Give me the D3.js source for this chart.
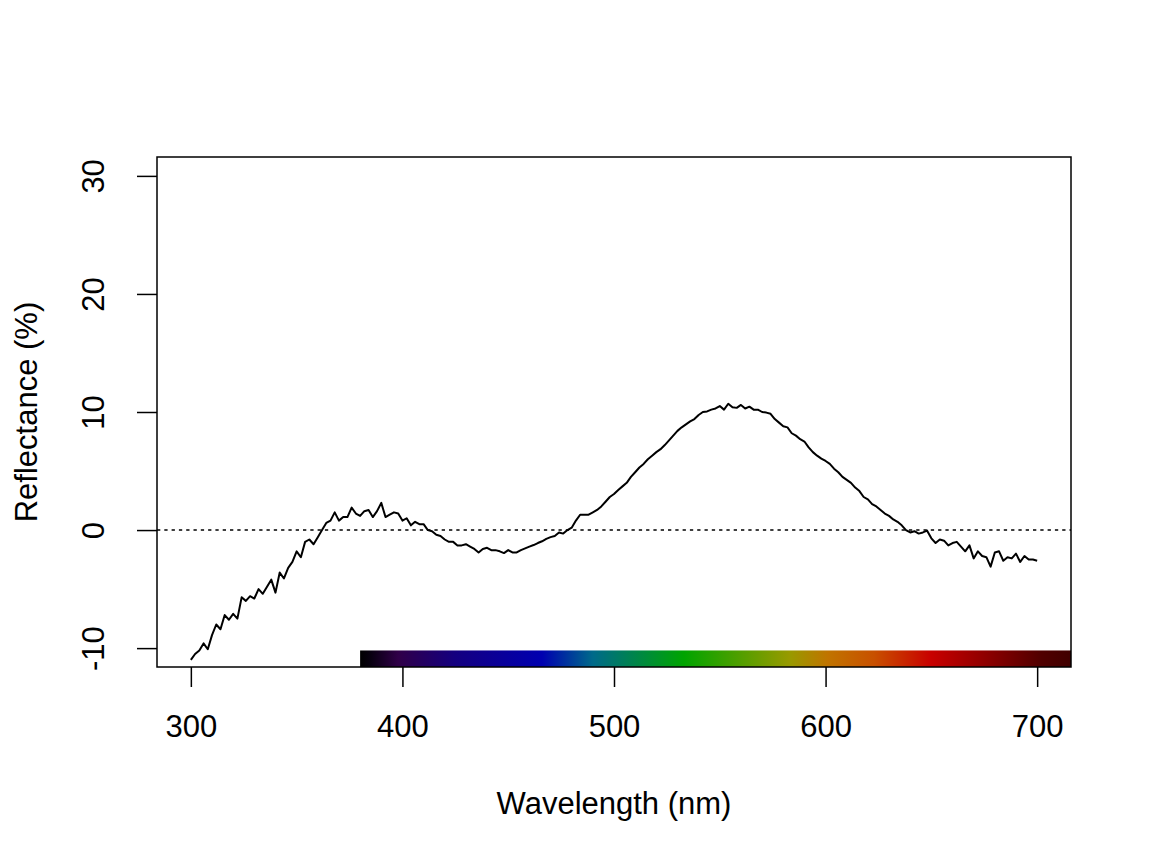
<!DOCTYPE html>
<html>
<head>
<meta charset="utf-8">
<script src="https://cdn.jsdelivr.net/npm/d3@7"></script>
<style>
  body { margin: 0; background: #fff; }
  text { font-family: "Liberation Sans", Arial, Helvetica, sans-serif; }
</style>
</head>
<body>
<div class="container"></div>
<script>
// reflectance, one reading every 2 nm from 300 to 700
const reflectance = [
  -11.0, -10.5, -10.2, -9.6, -10.1, -8.9, -8.0, -8.4, -7.2, -7.6,
  -7.1, -7.5, -5.7, -6.0, -5.6, -5.8, -5.0, -5.4, -4.8, -4.2,
  -5.3, -3.6, -4.1, -3.2, -2.7, -1.8, -2.3, -1.0, -0.8, -1.2,
  -0.6, 0.0, 0.6, 0.8, 1.5, 0.8, 1.1, 1.1, 1.9, 1.4,
  1.2, 1.6, 1.7, 1.1, 1.6, 2.3, 1.1, 1.3, 1.5, 1.4,
  0.8, 1.0, 0.4, 0.7, 0.5, 0.5, 0.0, -0.1, -0.4, -0.5,
  -0.8, -1.0, -1.0, -1.3, -1.3, -1.2, -1.4, -1.6, -1.9, -1.6,
  -1.5, -1.7, -1.7, -1.8, -1.95, -1.7, -1.9, -1.9, -1.7, -1.55,
  -1.4, -1.27, -1.1, -0.95, -0.75, -0.6, -0.5, -0.2, -0.3, 0.0,
  0.2, 0.8, 1.3, 1.3, 1.3, 1.5, 1.7, 2.0, 2.4, 2.8,
  3.05, 3.4, 3.7, 4.0, 4.5, 4.9, 5.3, 5.6, 6.0, 6.3,
  6.6, 6.85, 7.2, 7.6, 8.0, 8.4, 8.7, 8.95, 9.2, 9.4,
  9.75, 10.0, 10.05, 10.2, 10.3, 10.5, 10.2, 10.7, 10.4, 10.35,
  10.6, 10.3, 10.45, 10.2, 10.2, 10.0, 9.95, 9.85, 9.4, 9.1,
  8.8, 8.7, 8.2, 8.0, 7.7, 7.5, 7.0, 6.6, 6.3, 6.05,
  5.85, 5.6, 5.2, 4.9, 4.5, 4.25, 4.0, 3.6, 3.3, 2.8,
  2.6, 2.2, 2.0, 1.7, 1.4, 1.2, 0.9, 0.7, 0.4, 0.0,
  -0.2, -0.1, -0.3, -0.2, -0.05, -0.7, -1.1, -0.8, -0.9, -1.3,
  -1.1, -1.0, -1.4, -1.8, -1.3, -2.4, -1.8, -2.2, -2.3, -3.1,
  -1.9, -1.8, -2.6, -2.3, -2.4, -2.0, -2.7, -2.2, -2.5, -2.5,
  -2.6
]
const wavelength = reflectance.map((v, i) => 300 + 2 * i)

const xTicks = [300, 400, 500, 600, 700]
const yTicks = [-10, 0, 10, 20, 30]

// colours of the visible-spectrum bar
const specNm = [380, 385, 398, 425, 466, 490, 533, 583, 601, 623, 650, 675, 702, 716]
const specCol = ['#000000', '#080010', '#300048', '#140080', '#0000b0', '#006a8a', '#00a400',
  '#989a00', '#c07400', '#c85000', '#c80000', '#900000', '#500000', '#400000']

const w = 1152
const h = 864
const mLeft = 157, mRight = 1071, mTop = 157, mBottom = 667
const fs = 31

const svg = d3.select(".container")
  .append("svg")
  .attr("width", w)
  .attr("height", h)

const x = d3.scaleLinear().domain([284, 716]).range([mLeft, mRight])
const y = d3.scaleLinear().domain([-11.6, 31.6]).range([mBottom, mTop])

// spectrum bar along the bottom, as a gradient
const barStart = specNm[0], barEnd = specNm[specNm.length - 1]
const grad = svg.append("defs")
  .append("linearGradient")
  .attr("id", "spec")
  .attr("x1", "0%").attr("x2", "100%")
  .attr("y1", "0%").attr("y2", "0%")
grad.selectAll("stop")
  .data(specNm)
  .enter()
  .append("stop")
  .attr("offset", d => ((d - barStart) / (barEnd - barStart) * 100) + "%")
  .attr("stop-color", (d, i) => specCol[i])

svg.append("rect")
  .attr("x", x(barStart))
  .attr("width", x(barEnd) - x(barStart))
  .attr("y", y(-10.2))
  .attr("height", mBottom - y(-10.2))
  .attr("fill", "url(#spec)")

// zero line
svg.append("line")
  .attr("x1", mLeft).attr("x2", mRight)
  .attr("y1", y(0)).attr("y2", y(0))
  .attr("stroke", "black")
  .attr("stroke-width", 1.6)
  .attr("stroke-dasharray", "3.3 4")

// the curve
const line = d3.line()
  .x((d, i) => x(wavelength[i]))
  .y(d => y(d))

svg.append("path")
  .datum(reflectance)
  .attr("d", line)
  .attr("fill", "none")
  .attr("stroke", "black")
  .attr("stroke-width", 2)
  .attr("stroke-linejoin", "round")

// box
svg.append("rect")
  .attr("x", mLeft).attr("y", mTop)
  .attr("width", mRight - mLeft).attr("height", mBottom - mTop)
  .attr("fill", "none")
  .attr("stroke", "black")
  .attr("stroke-width", 1.5)

// axes
const xAxis = svg.append("g")
  .attr("transform", `translate(0,${mBottom})`)
  .call(d3.axisBottom(x).tickValues(xTicks).tickSize(20).tickSizeOuter(0).tickFormat(d => String(d)))
xAxis.select(".domain").remove()
xAxis.selectAll("line").attr("stroke-width", 1.5)
xAxis.selectAll("text")
  .attr("y", 70)
  .attr("dy", 0)
  .attr("font-size", fs)
  .attr("fill", "black")

const yAxis = svg.append("g")
  .attr("transform", `translate(${mLeft},0)`)
  .call(d3.axisLeft(y).tickValues(yTicks).tickSize(20).tickSizeOuter(0).tickFormat(d => String(d)))
yAxis.select(".domain").remove()
yAxis.selectAll("line").attr("stroke-width", 1.5)
yAxis.selectAll("text")
  .attr("x", 0)
  .attr("dy", 0)
  .attr("text-anchor", "middle")
  .attr("transform", "translate(-53,0) rotate(-90)")
  .attr("font-size", fs)
  .attr("fill", "black")

svg.selectAll(".tick text").attr("font-family", '"Liberation Sans", Arial, Helvetica, sans-serif')

// axis titles
svg.append("text")
  .attr("x", (mLeft + mRight) / 2)
  .attr("y", 814)
  .attr("text-anchor", "middle")
  .attr("font-size", fs)
  .text("Wavelength (nm)")

svg.append("text")
  .attr("transform", `translate(37,${(mTop + mBottom) / 2}) rotate(-90)`)
  .attr("text-anchor", "middle")
  .attr("font-size", fs)
  .text("Reflectance (%)")
</script>
</body>
</html>
